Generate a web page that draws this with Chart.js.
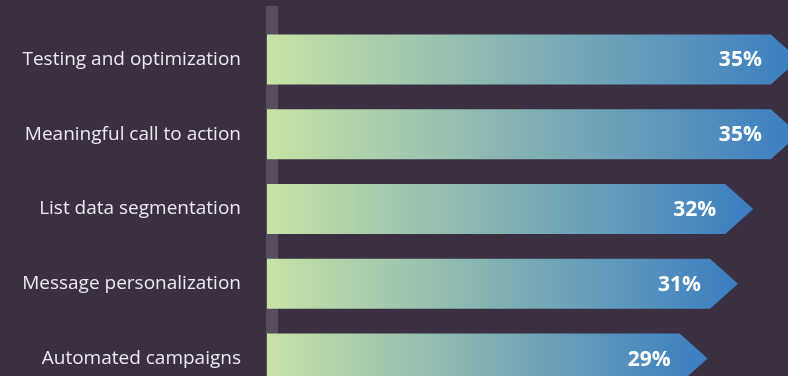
<!DOCTYPE html>
<html>
<head>
<meta charset="utf-8">
<script src="https://cdn.jsdelivr.net/npm/chart.js@4.4.1/dist/chart.umd.min.js"></script>
<style>
  html, body { margin: 0; padding: 0; background: #3b2f42; overflow: hidden; width: 788px; height: 376px; }
  canvas { position: absolute; left: 0; top: 0; }
</style>
</head>
<body>
<canvas id="c" width="820" height="400"></canvas>
<script>
const categories = [
  "Testing and optimization",
  "Meaningful call to action",
  "List data segmentation",
  "Message personalization",
  "Automated campaigns"
];
const values = [35, 35, 32, 31, 29];
const valueLabels = ["35%", "35%", "32%", "31%", "29%"];

const axisBand = {
  id: "axisBand",
  beforeDatasetsDraw(chart) {
    const ctx = chart.ctx;
    const x0 = chart.scales.x.getPixelForValue(0);
    ctx.save();
    ctx.fillStyle = "#574d5f";
    ctx.fillRect(x0 - 1, chart.chartArea.top - 16, 12, chart.height);
    ctx.restore();
  }
};

const arrowBars = {
  id: "arrowBars",
  afterDatasetsDraw(chart) {
    const ctx = chart.ctx;
    const meta = chart.getDatasetMeta(0);
    ctx.save();
    meta.data.forEach((bar, i) => {
      const half = bar.height / 2;
      const top = bar.y - half, bottom = bar.y + half;
      const base = bar.base, tip = bar.x;
      const L = 28;
      const g = ctx.createLinearGradient(base, 0, tip, 0);
      g.addColorStop(0, "#c8e3a6");
      g.addColorStop(1, "#3a7dc2");
      ctx.fillStyle = g;
      ctx.beginPath();
      ctx.moveTo(base, top);
      ctx.lineTo(tip - L, top);
      ctx.lineTo(tip, bar.y);
      ctx.lineTo(tip - L, bottom);
      ctx.lineTo(base, bottom);
      ctx.closePath();
      ctx.fill();
      ctx.fillStyle = "#ffffff";
      ctx.font = "bold 21px 'Open Sans'";
      ctx.textAlign = "right";
      ctx.textBaseline = "middle";
      ctx.fillText(valueLabels[i], tip - 37, bar.y + 1);
    });
    ctx.restore();
  }
};

const chart = new Chart(document.getElementById("c"), {
  type: "bar",
  data: {
    labels: categories,
    datasets: [{
      data: values,
      backgroundColor: "rgba(0,0,0,0)",
      borderWidth: 0,
      barPercentage: 0.668,
      categoryPercentage: 1
    }]
  },
  options: {
    responsive: false,
    indexAxis: "y",
    animation: false,
    layout: { padding: { top: 22, bottom: 4, right: 6, left: 0 } },
    plugins: { legend: { display: false }, tooltip: { enabled: false } },
    scales: {
      x: {
        min: 0, max: 36,
        display: false
      },
      y: {
        grid: { display: false, drawTicks: false },
        border: { display: false },
        ticks: {
          color: "#ece9ef",
          font: { family: "'Open Sans'", size: 19 },
          padding: 26
        },
        afterFit(scale) { scale.width = 267; scale.paddingTop = 0; scale.paddingBottom = 0; }
      }
    }
  },
  plugins: [axisBand, arrowBars]
});
</script>
</body>
</html>
